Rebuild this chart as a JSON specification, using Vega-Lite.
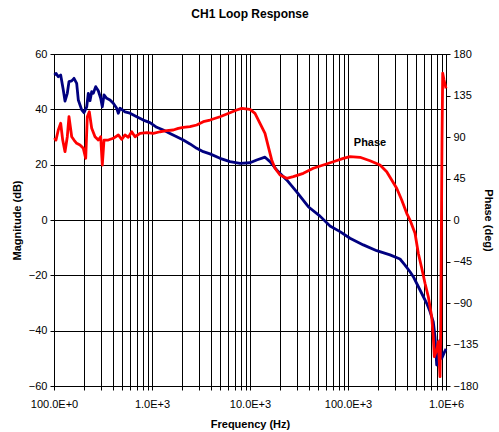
{
  "$schema": "https://vega.github.io/schema/vega-lite/v6.json",
  "width": 392,
  "height": 332,
  "autosize": {"type": "none"},
  "padding": {"left": 54, "top": 54, "right": 53, "bottom": 46},
  "background": "white",
  "config": {
    "font": "Liberation Sans",
    "view": {"stroke": "#000", "strokeWidth": 1},
    "axis": {
      "labelFont": "Liberation Sans", "labelFontSize": 11, "labelColor": "#000",
      "titleFont": "Liberation Sans", "titleFontSize": 11, "titleFontWeight": "bold", "titleColor": "#000",
      "domainColor": "#000", "tickColor": "#000", "gridColor": "#000", "gridOpacity": 1, "gridWidth": 1
    }
  },
  "title": {"text": "CH1 Loop Response", "font": "Liberation Sans", "fontSize": 12, "fontWeight": "bold", "color": "#000", "anchor": "middle", "offset": 27},
  "datasets": {
    "mag": [
      {"f": 101, "mag": 52.4}, {"f": 104.8, "mag": 53.0}, {"f": 110.6, "mag": 51.8}, {"f": 117.0, "mag": 52.4},
      {"f": 124.4, "mag": 47.0}, {"f": 129.5, "mag": 43.0}, {"f": 136.7, "mag": 45.8}, {"f": 142.2, "mag": 50.0},
      {"f": 151.6, "mag": 50.3}, {"f": 160.0, "mag": 51.2}, {"f": 170.4, "mag": 49.4}, {"f": 177.0, "mag": 43.4},
      {"f": 191.8, "mag": 39.8}, {"f": 202.4, "mag": 38.8}, {"f": 215.7, "mag": 40.9}, {"f": 223.9, "mag": 45.8},
      {"f": 233.0, "mag": 43.1}, {"f": 242.6, "mag": 46.4}, {"f": 251.8, "mag": 45.8}, {"f": 266.4, "mag": 48.2},
      {"f": 283.1, "mag": 46.7}, {"f": 299.5, "mag": 44.0}, {"f": 311.1, "mag": 40.9}, {"f": 323.7, "mag": 45.2},
      {"f": 345.0, "mag": 44.0}, {"f": 372.8, "mag": 43.4}, {"f": 402.9, "mag": 42.2}, {"f": 436.3, "mag": 40.4},
      {"f": 453.0, "mag": 38.6}, {"f": 471.5, "mag": 40.4}, {"f": 530.3, "mag": 39.1}, {"f": 596.5, "mag": 38.6},
      {"f": 698.2, "mag": 37.3}, {"f": 815.1, "mag": 36.1}, {"f": 954.1, "mag": 35.2}, {"f": 1117, "mag": 33.5},
      {"f": 1304, "mag": 32.5}, {"f": 1526, "mag": 31.3}, {"f": 1787, "mag": 30.1}, {"f": 2086, "mag": 28.9},
      {"f": 2442, "mag": 27.5}, {"f": 2858, "mag": 25.9}, {"f": 3338, "mag": 24.7}, {"f": 3907, "mag": 23.9},
      {"f": 4942, "mag": 22.3}, {"f": 6251, "mag": 21.1}, {"f": 7907, "mag": 20.5}, {"f": 10000, "mag": 20.7},
      {"f": 11705, "mag": 21.7}, {"f": 14226, "mag": 22.7}, {"f": 16001, "mag": 21.1}, {"f": 18727, "mag": 18.1},
      {"f": 23689, "mag": 14.5}, {"f": 29955, "mag": 10.2}, {"f": 39338, "mag": 4.8}, {"f": 51800, "mag": 1.4},
      {"f": 65520, "mag": -2.2}, {"f": 82870, "mag": -4.2}, {"f": 104800, "mag": -6.6}, {"f": 143260, "mag": -9.0},
      {"f": 196300, "mag": -11.1}, {"f": 268300, "mag": -12.6}, {"f": 339300, "mag": -14.1}, {"f": 381600, "mag": -16.3},
      {"f": 429300, "mag": -18.7}, {"f": 463800, "mag": -20.5}, {"f": 542900, "mag": -25.3}, {"f": 635600, "mag": -30.1},
      {"f": 686500, "mag": -33.1}, {"f": 742000, "mag": -36.8}, {"f": 772400, "mag": -42.2}, {"f": 803800, "mag": -52.4},
      {"f": 834500, "mag": -47.7}, {"f": 868600, "mag": -43.4}, {"f": 903900, "mag": -50.0}, {"f": 954100, "mag": -48.1},
      {"f": 1000000, "mag": -46.6}
    ],
    "phase": [
      {"f": 101, "phase": 88.9}, {"f": 104.8, "phase": 86.7}, {"f": 110.6, "phase": 97.6}, {"f": 117.0, "phase": 104.9},
      {"f": 122.7, "phase": 86.7}, {"f": 129.5, "phase": 74.1}, {"f": 136.7, "phase": 90.3}, {"f": 142.2, "phase": 112.0},
      {"f": 151.6, "phase": 90.3}, {"f": 160.0, "phase": 86.7}, {"f": 170.4, "phase": 83.2}, {"f": 184.2, "phase": 81.3},
      {"f": 199.1, "phase": 77.7}, {"f": 210.7, "phase": 66.9}, {"f": 218.7, "phase": 112.0}, {"f": 229.2, "phase": 117.4},
      {"f": 242.6, "phase": 99.4}, {"f": 262.1, "phase": 90.3}, {"f": 283.1, "phase": 86.7}, {"f": 299.5, "phase": 90.3},
      {"f": 311.1, "phase": 59.6}, {"f": 323.7, "phase": 86.7}, {"f": 358.2, "phase": 86.7}, {"f": 402.9, "phase": 88.6},
      {"f": 453.0, "phase": 92.2}, {"f": 490.7, "phase": 87.5}, {"f": 530.3, "phase": 92.2}, {"f": 573.2, "phase": 89.7},
      {"f": 620.8, "phase": 95.7}, {"f": 670.9, "phase": 90.3}, {"f": 754.4, "phase": 94.0}, {"f": 883.1, "phase": 94.7},
      {"f": 1031, "phase": 94.0}, {"f": 1206, "phase": 95.7}, {"f": 1413, "phase": 96.8}, {"f": 1650, "phase": 97.6},
      {"f": 1855, "phase": 99.4}, {"f": 2086, "phase": 100.5}, {"f": 2442, "phase": 101.2}, {"f": 2858, "phase": 103.0},
      {"f": 3338, "phase": 106.6}, {"f": 3907, "phase": 108.4}, {"f": 4942, "phase": 112.0}, {"f": 6251, "phase": 116.3},
      {"f": 7316, "phase": 119.3}, {"f": 8228, "phase": 121.1}, {"f": 10000, "phase": 120.0}, {"f": 11246, "phase": 115.7},
      {"f": 12647, "phase": 104.9}, {"f": 14226, "phase": 94.0}, {"f": 15373, "phase": 79.5}, {"f": 16650, "phase": 65.1},
      {"f": 17995, "phase": 56.1}, {"f": 20240, "phase": 48.8}, {"f": 23689, "phase": 45.2}, {"f": 27654, "phase": 47.0},
      {"f": 34990, "phase": 50.6}, {"f": 44250, "phase": 56.1}, {"f": 55980, "phase": 59.6}, {"f": 70790, "phase": 63.2},
      {"f": 89540, "phase": 66.9}, {"f": 104800, "phase": 68.7}, {"f": 132600, "phase": 68.0}, {"f": 167700, "phase": 64.3},
      {"f": 212100, "phase": 59.6}, {"f": 248300, "phase": 52.4}, {"f": 279200, "phase": 43.4}, {"f": 314000, "phase": 34.4},
      {"f": 353200, "phase": 21.7}, {"f": 397200, "phase": 7.3}, {"f": 429300, "phase": 0.0}, {"f": 482900, "phase": -14.4},
      {"f": 521600, "phase": -36.1}, {"f": 564900, "phase": -52.0}, {"f": 610700, "phase": -68.6}, {"f": 659900, "phase": -83.2},
      {"f": 714600, "phase": -104.9}, {"f": 742000, "phase": -126.5}, {"f": 759800, "phase": -148.2}, {"f": 803800, "phase": -141.0},
      {"f": 834500, "phase": -132.0}, {"f": 868600, "phase": -169.9}, {"f": 883100, "phase": -119.3}, {"f": 895500, "phase": -21.7},
      {"f": 910400, "phase": 86.7}, {"f": 925400, "phase": 159.1}, {"f": 954100, "phase": 151.8}, {"f": 1000000, "phase": 142.8}
    ],
    "labels": [{"f": 167700, "phase": 83.5, "text": "Phase"}]
  },
  "encoding": {
    "x": {
      "field": "f", "type": "quantitative",
      "scale": {"type": "log", "domain": [100, 1000000], "nice": false},
      "axis": {
        "title": "Frequency (Hz)", "grid": true, "tickSize": 4, "labelPadding": 8, "titlePadding": 9,
        "values": [100,200,300,400,500,600,700,800,900,1000,2000,3000,4000,5000,6000,7000,8000,9000,10000,20000,30000,40000,50000,60000,70000,80000,90000,100000,200000,300000,400000,500000,600000,700000,800000,900000,1000000],
        "labelExpr": "datum.value == 100 ? '100.0E+0' : datum.value == 1000 ? '1.0E+3' : datum.value == 10000 ? '10.0E+3' : datum.value == 100000 ? '100.0E+3' : datum.value == 1000000 ? '1.0E+6' : ''",
        "labelOverlap": false, "labelFlush": false
      }
    }
  },
  "layer": [
    {
      "data": {"name": "mag"},
      "mark": {"type": "line", "color": "#000080", "strokeWidth": 2.8, "strokeJoin": "round"},
      "encoding": {
        "y": {
          "field": "mag", "type": "quantitative",
          "scale": {"domain": [-60, 60], "nice": false},
          "axis": {"title": "Magnitude (dB)", "orient": "left", "grid": true, "values": [-60,-40,-20,0,20,40,60], "tickSize": 4, "labelPadding": 3, "titlePadding": 6}
        }
      }
    },
    {
      "data": {"name": "phase"},
      "mark": {"type": "line", "color": "#FF0000", "strokeWidth": 2.8, "strokeJoin": "round"},
      "encoding": {
        "y": {
          "field": "phase", "type": "quantitative",
          "scale": {"domain": [-180, 180], "nice": false},
          "axis": {"title": "Phase (deg)", "orient": "right", "grid": false, "values": [-180,-135,-90,-45,0,45,90,135,180], "tickSize": 4, "labelPadding": 3, "titlePadding": 5}
        }
      }
    },
    {
      "data": {"name": "labels"},
      "mark": {"type": "text", "font": "Liberation Sans", "fontSize": 11, "fontWeight": "bold", "color": "#000"},
      "encoding": {
        "y": {"field": "phase", "type": "quantitative", "scale": {"domain": [-180, 180], "nice": false}, "axis": null},
        "text": {"field": "text"}
      }
    }
  ],
  "resolve": {"scale": {"y": "independent"}}
}
